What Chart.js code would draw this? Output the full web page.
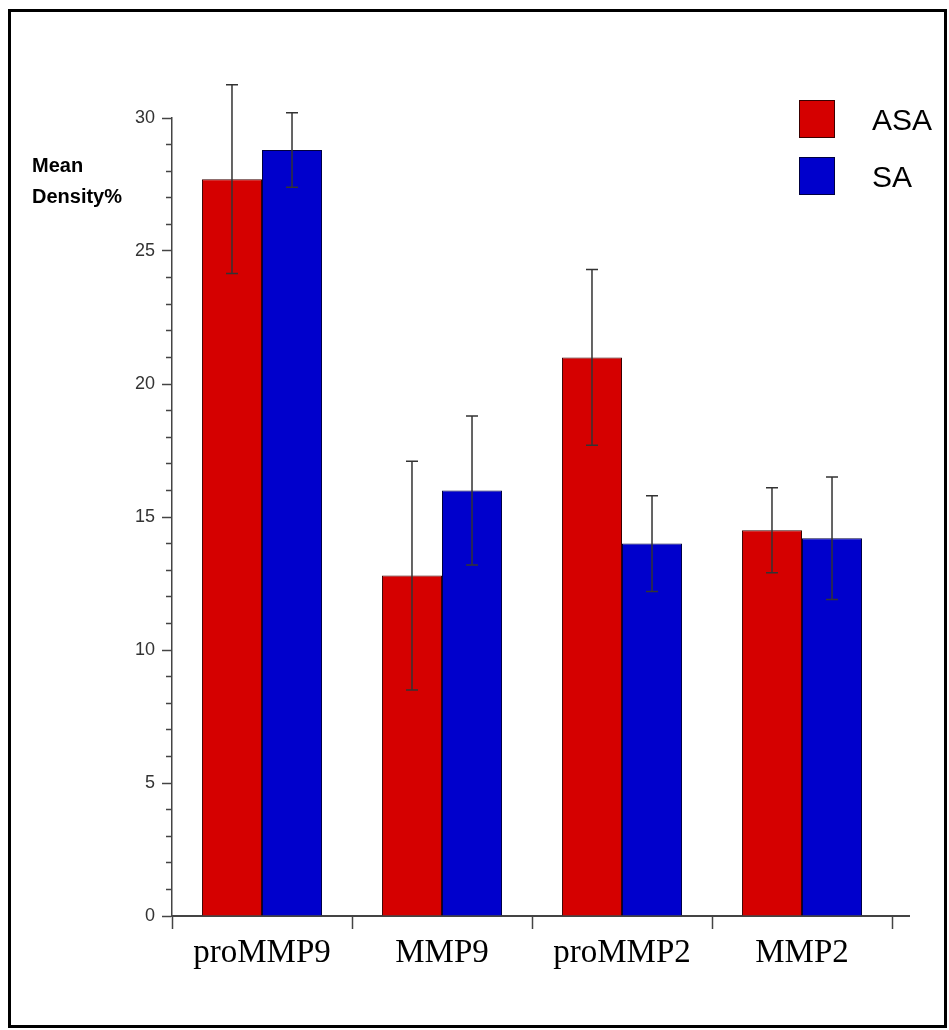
<!DOCTYPE html>
<html>
<head>
<meta charset="utf-8">
<script src="https://cdn.jsdelivr.net/npm/chart.js@4.4.1/dist/chart.umd.min.js"></script>
<style>
  html, body { margin: 0; padding: 0; background: #fff; overflow: hidden; }
  #wrap { position: relative; width: 949px; height: 1030px; }
</style>
</head>
<body>
<div id="wrap"><canvas id="densityChart"></canvas></div>
<script>
// Data
const categories = ['proMMP9', 'MMP9', 'proMMP2', 'MMP2'];
const asaValues = [27.7, 12.8, 21.0, 14.5];
const asaErrors = [3.55, 4.3, 3.3, 1.6];
const saValues = [28.8, 16.0, 14.0, 14.2];
const saErrors = [1.4, 2.8, 1.8, 2.3];
const yTicksMajor = [0, 5, 10, 15, 20, 25, 30];

// error bars, drawn through the y scale
const errorBarPlugin = {
    id: 'errorBars',
    afterDatasetsDraw(chart) {
        const ctx = chart.ctx;
        const yScale = chart.scales.y;
        ctx.save();
        ctx.strokeStyle = '#333';
        ctx.lineWidth = 1.5;
        chart.data.datasets.forEach((ds, di) => {
            const meta = chart.getDatasetMeta(di);
            meta.data.forEach((bar, i) => {
                const v = ds.data[i];
                const e = ds.errors[i];
                const top = yScale.getPixelForValue(v + e);
                const bottom = yScale.getPixelForValue(v - e);
                ctx.beginPath();
                ctx.moveTo(bar.x, top);
                ctx.lineTo(bar.x, bottom);
                ctx.moveTo(bar.x - 6, top);
                ctx.lineTo(bar.x + 6, top);
                ctx.moveTo(bar.x - 6, bottom);
                ctx.lineTo(bar.x + 6, bottom);
                ctx.stroke();
            });
        });
        ctx.restore();
    }
};

// frame, y title, legend and the x axis tail
const decorPlugin = {
    id: 'decor',
    afterDraw(chart) {
        const ctx = chart.ctx;
        const area = chart.chartArea;
        ctx.save();

        ctx.strokeStyle = '#444';
        ctx.lineWidth = 2;
        ctx.beginPath();
        ctx.moveTo(area.right, area.bottom);
        ctx.lineTo(area.right + 18, area.bottom);
        ctx.stroke();

        ctx.fillStyle = '#000';
        ctx.font = 'bold 20px "Liberation Sans", Arial, sans-serif';
        ctx.textBaseline = 'alphabetic';
        ctx.textAlign = 'left';
        ctx.fillText('Mean', 32, 172);
        ctx.fillText('Density%', 32, 203);

        ctx.font = '30px "Liberation Sans", Arial, sans-serif';
        chart.data.datasets.forEach((ds, i) => {
            const top = 100 + i * 57;
            ctx.fillStyle = ds.backgroundColor;
            ctx.fillRect(799, top, 36, 38);
            ctx.strokeStyle = ds.borderColor;
            ctx.lineWidth = 1;
            ctx.strokeRect(799.5, top + 0.5, 35, 37);
            ctx.fillStyle = '#000';
            ctx.fillText(ds.label, 872, top + 30);
        });

        ctx.strokeStyle = '#000';
        ctx.lineWidth = 3;
        ctx.strokeRect(9.5, 10.5, 936, 1016);
        ctx.restore();
    }
};

const ctx = document.getElementById('densityChart').getContext('2d');
new Chart(ctx, {
    type: 'bar',
    data: {
        labels: categories,
        datasets: [{
            label: 'ASA',
            data: asaValues,
            errors: asaErrors,
            backgroundColor: '#d50000',
            borderColor: '#3a0000',
            borderWidth: 1
        }, {
            label: 'SA',
            data: saValues,
            errors: saErrors,
            backgroundColor: '#0000cc',
            borderColor: '#000040',
            borderWidth: 1
        }]
    },
    options: {
        responsive: true,
        maintainAspectRatio: false,
        animation: false,
        clip: false,
        layout: { padding: { left: 0, right: 57, top: 118, bottom: 0 } },
        datasets: { bar: { categoryPercentage: 0.667, barPercentage: 1.0 } },
        plugins: {
            legend: { display: false },
            tooltip: { enabled: false }
        },
        scales: {
            x: {
                offset: true,
                afterFit: (scale) => { scale.height = 114; },
                grid: {
                    offset: true,
                    drawOnChartArea: false,
                    tickLength: 13,
                    tickColor: '#444',
                    tickWidth: 1.5
                },
                border: { color: '#444', width: 2 },
                ticks: {
                    color: '#000',
                    padding: 5,
                    font: { family: '"Liberation Serif", "Times New Roman", serif', size: 33 }
                }
            },
            y: {
                min: 0,
                max: 30,
                afterFit: (scale) => { scale.width = 172; },
                grid: {
                    drawOnChartArea: false,
                    tickLength: 10,
                    tickColor: '#444',
                    tickWidth: 1.5,
                    // minor ticks: only the 6px next to the axis
                    tickBorderDash: (c) => yTicksMajor.includes(c.tick.value) ? [] : [0, 4, 6, 20]
                },
                border: { color: '#444', width: 1.5 },
                ticks: {
                    stepSize: 1,
                    autoSkip: false,
                    color: '#333',
                    padding: 7,
                    font: { family: '"Liberation Sans", Arial, sans-serif', size: 18 },
                    callback: (v) => yTicksMajor.includes(v) ? v : ''
                }
            }
        }
    },
    plugins: [errorBarPlugin, decorPlugin]
});
</script>
</body>
</html>
